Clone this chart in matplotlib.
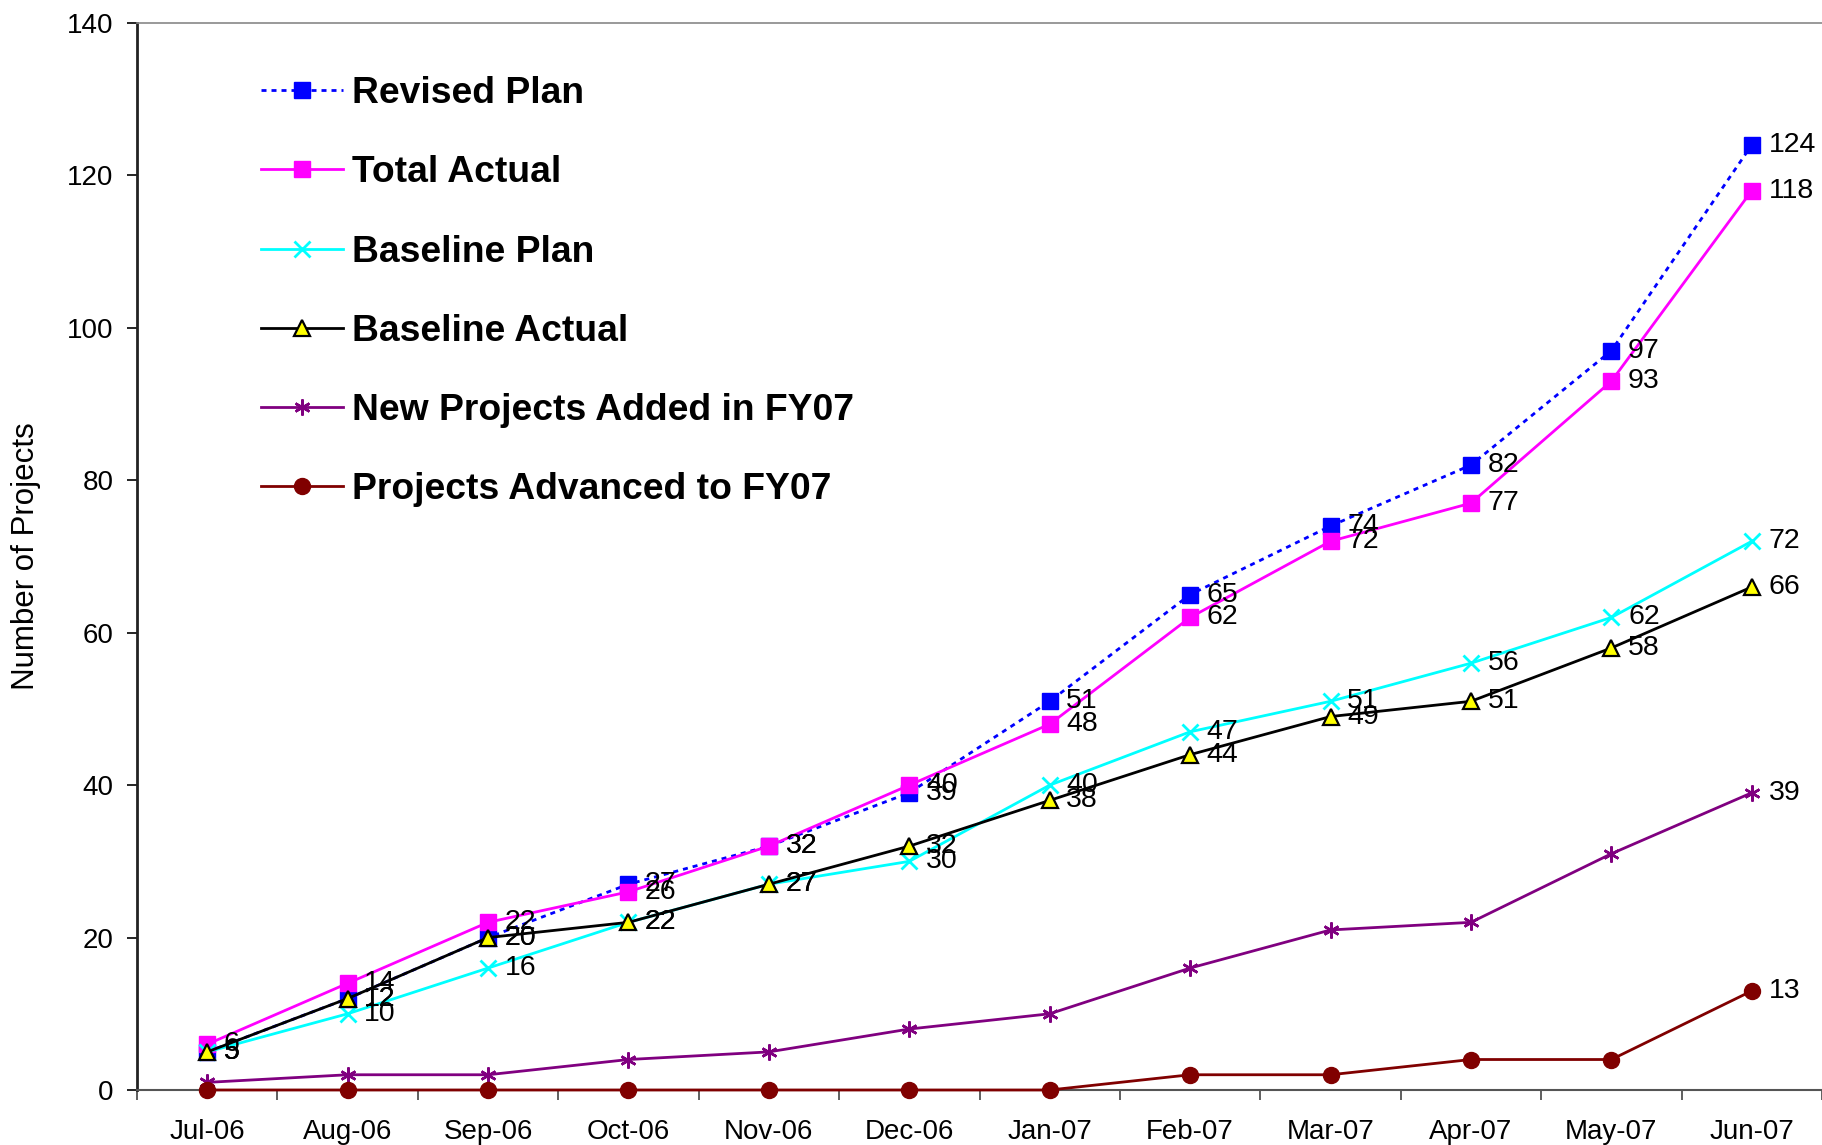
import matplotlib
matplotlib.use("Agg")
import matplotlib.pyplot as plt

plt.rcParams['font.family'] = ['Liberation Sans', 'DejaVu Sans']

months = ["Jul-06", "Aug-06", "Sep-06", "Oct-06", "Nov-06", "Dec-06",
          "Jan-07", "Feb-07", "Mar-07", "Apr-07", "May-07", "Jun-07"]
revised_plan = [5, 12, 20, 27, 32, 39, 51, 65, 74, 82, 97, 124]
total_actual = [6, 14, 22, 26, 32, 40, 48, 62, 72, 77, 93, 118]
baseline_plan = [5, 10, 16, 22, 27, 30, 40, 47, 51, 56, 62, 72]
baseline_actual = [5, 12, 20, 22, 27, 32, 38, 44, 49, 51, 58, 66]
new_projects = [1, 2, 2, 4, 5, 8, 10, 16, 21, 22, 31, 39]
advanced = [0, 0, 0, 0, 0, 0, 0, 2, 2, 4, 4, 13]
yticks = [0, 20, 40, 60, 80, 100, 120, 140]

W, H = 1822, 1145
fig = plt.figure(figsize=(W / 100, H / 100), dpi=100)
ax = fig.add_axes([137 / W, 1 - 1090 / H, (W - 137) / W, (1090 - 23) / H])

x = list(range(len(months)))
lw = 2.0
ms = 11.5

series = [
    ("Revised Plan", revised_plan, dict(color="#0000FF", linestyle=(0, (1.8, 1.8)), marker="s",
                                        markerfacecolor="#0000FF", markeredgecolor="#0000FF", markersize=ms), True),
    ("Total Actual", total_actual, dict(color="#FF00FF", marker="s", markerfacecolor="#FF00FF",
                                        markeredgecolor="#FF00FF", markersize=ms), True),
    ("Baseline Plan", baseline_plan, dict(color="#00FFFF", marker="x", markeredgecolor="#00FFFF",
                                          markersize=ms, markeredgewidth=2.0), True),
    ("Baseline Actual", baseline_actual, dict(color="#000000", marker="^", markerfacecolor="#FFFF00",
                                              markeredgecolor="#000000", markersize=11, markeredgewidth=1.6), True),
    ("New Projects Added in FY07", new_projects, dict(color="#800080", marker=(6, 2, 0),
                                                      markeredgecolor="#800080", markersize=ms, markeredgewidth=1.8), False),
    ("Projects Advanced to FY07", advanced, dict(color="#800000", marker="o", markerfacecolor="#800000",
                                                 markeredgecolor="#800000", markersize=ms), False),
]

for i, (name, vals, style, all_labels) in enumerate(series):
    ax.plot(x, vals, linewidth=lw, label=name, zorder=3 + i, clip_on=False, **style)

for name, vals, style, all_labels in series:
    idxs = range(len(vals)) if all_labels else [len(vals) - 1]
    for j in idxs:
        ax.annotate(str(vals[j]), (x[j], vals[j]), xytext=(12, 0), textcoords="offset points",
                    ha="left", va="center", fontsize=20.5, color="black", zorder=20)

ax.set_xlim(-0.5, len(months) - 0.5)
ax.set_ylim(0, 140)
ax.set_yticks(yticks)
ax.set_xticks(x)
ax.set_xticklabels(months)
ax.set_xticks([k - 0.5 for k in range(len(months) + 1)], minor=True)
ax.tick_params(axis="x", which="major", length=0, pad=21, labelsize=20)
ax.tick_params(axis="x", which="minor", length=7, width=1.2, color="#444444", direction="out")
ax.tick_params(axis="y", length=7, width=1.2, direction="out", pad=10, labelsize=20)

ax.spines["right"].set_visible(False)
ax.spines["top"].set_color("#888888")
ax.spines["top"].set_linewidth(1.2)
ax.spines["left"].set_linewidth(2)
ax.spines["left"].set_color("#222222")
ax.spines["bottom"].set_color("#555555")
ax.spines["bottom"].set_linewidth(1.5)

ax.set_ylabel("Number of Projects", fontsize=22.5)
ax.yaxis.set_label_coords((26 - 137) / (W - 137), 0.5)
ax.yaxis.label.set_va("center")

leg = ax.legend(loc="upper left", bbox_to_anchor=(261 / W, 1 - 76 / H), bbox_transform=fig.transFigure,
                frameon=False, prop=dict(size=26.8, weight="bold"), handlelength=2.2,
                handletextpad=0.24, labelspacing=1.19, borderpad=0, borderaxespad=0)

fig.savefig("out.png", dpi=100)
